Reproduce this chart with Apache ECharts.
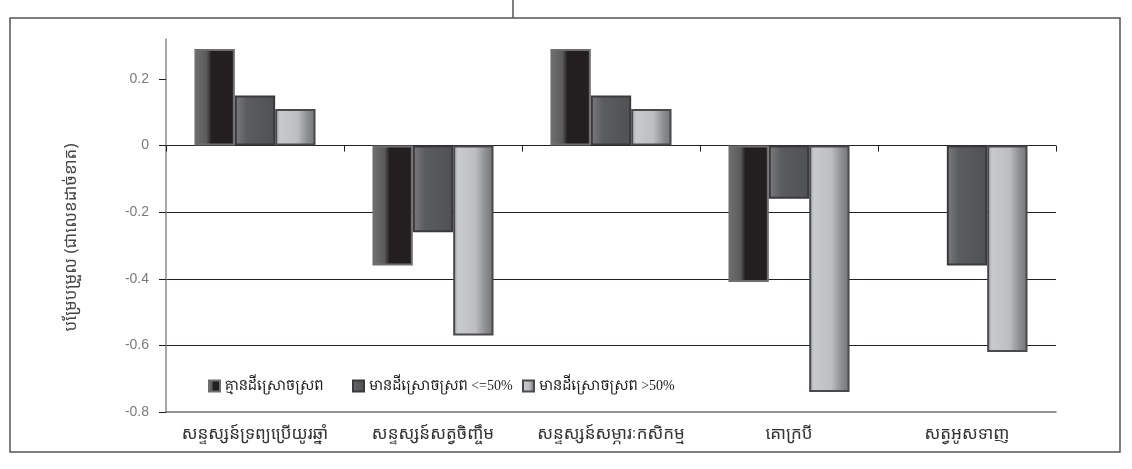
<!DOCTYPE html>
<html>
<head>
<meta charset="utf-8">
<script src="https://cdn.jsdelivr.net/npm/echarts@6/dist/echarts.min.js"></script>
<style>
  html, body { margin: 0; padding: 0; background: #fff; }
  #chart { width: 1132px; height: 469px; }
</style>
</head>
<body>
<div id="chart"></div>
<script>
// categories and series values
const categories = ['សន្ទស្សន៍ទ្រព្យប្រើយូរឆ្នាំ', 'សន្ទស្សន៍សត្វចិញ្ចឹម', 'សន្ទស្សន៍សម្ភារៈកសិកម្ម', 'គោក្របី', 'សត្វអូសទាញ']
const seriesNames = ['គ្មានដីស្រោចស្រព', 'មានដីស្រោចស្រព <=50%', 'មានដីស្រោចស្រព >50%']
const noIrrigation = [0.29, -0.36, 0.29, -0.41, null]
const irrigationLe50 = [0.15, -0.26, 0.15, -0.16, -0.36]
const irrigationGt50 = [0.11, -0.57, 0.11, -0.74, -0.62]
const yTicks = [-0.8, -0.6, -0.4, -0.2, 0, 0.2]

const khmerSans = "'Noto Sans Khmer', 'Khmer OS System', 'DejaVu Sans', sans-serif"
const khmerSerif = "'Liberation Serif', 'Noto Serif Khmer', 'Khmer OS', serif"

function grad (stops) {
  return new echarts.graphic.LinearGradient(0, 0, 1, 0, stops.map(function (s) {
    return { offset: s[0], color: s[1] }
  }))
}

const styles = [
  {
    color: grad([[0, '#707071'], [0.3, '#5a5a5b'], [0.42, '#231f20'], [1, '#231f20']]),
    borderColor: '#6e6e70'
  },
  {
    color: grad([[0, '#7c7c7e'], [0.3, '#5b5c5e'], [1, '#505153']]),
    borderColor: '#3a3a3c'
  },
  {
    color: grad([[0, '#9c9d9f'], [0.12, '#c9cacc'], [0.55, '#bdbec0'], [0.8, '#8d8e90'], [1, '#727375']]),
    borderColor: '#4a4a4c'
  }
]

const dataSets = [noIrrigation, irrigationLe50, irrigationGt50]
const legendLeft = [203, 347, 517]

const chart = echarts.init(document.getElementById('chart'))

const option = {
  backgroundColor: '#fff',
  animation: false,
  grid: {
    left: 166,
    right: 76,
    top: 39,
    bottom: 57
  },
  legend: seriesNames.map(function (name, i) {
    return {
      data: [name],
      left: legendLeft[i],
      top: 374,
      itemWidth: 11,
      itemHeight: 11,
      icon: 'rect',
      textStyle: {
        fontFamily: khmerSerif,
        fontSize: 14,
        color: '#231f20'
      }
    }
  }),
  xAxis: [{
    // ticks along the zero line
    type: 'category',
    data: categories,
    axisLine: { show: false, onZero: true },
    axisTick: { show: true, length: 6, lineStyle: { color: '#231f20' } },
    axisLabel: { show: false },
    splitLine: { show: false }
  }, {
    type: 'category',
    data: categories,
    position: 'bottom',
    axisLine: { onZero: false, lineStyle: { color: '#707070', width: 1.5 } },
    axisTick: { show: false },
    axisLabel: {
      interval: 0,
      margin: 14,
      fontFamily: khmerSans,
      fontSize: 17,
      color: '#333'
    }
  }],
  yAxis: [{
    type: 'value',
    min: -0.8,
    max: 0.32,
    interval: 0.2,
    name: 'បម្រែបម្រួល (ជាលេខដាច់ខាត)',
    nameLocation: 'middle',
    nameRotate: 90,
    nameGap: 86,
    nameTextStyle: {
      fontFamily: khmerSans,
      fontSize: 17,
      color: '#444',
      padding: [0, 24, 0, 0]
    },
    axisLine: { show: true, lineStyle: { color: '#8a8a8a', width: 1.5 } },
    axisTick: { show: true, length: 7, customValues: yTicks, lineStyle: { color: '#231f20' } },
    axisLabel: {
      customValues: yTicks,
      margin: 17,
      fontFamily: "'Liberation Sans', Arial, sans-serif",
      fontSize: 14,
      color: '#7a7a7a',
      formatter: function (v) { return String(Math.round(v * 10) / 10) }
    },
    splitLine: {
      show: true,
      showMinLine: false,
      showMaxLine: false,
      lineStyle: { color: '#231f20', width: 1 }
    }
  }],
  series: dataSets.map(function (d, i) {
    return {
      name: seriesNames[i],
      type: 'bar',
      data: d,
      barGap: '0%',
      barCategoryGap: '32%',
      itemStyle: {
        color: styles[i].color,
        borderColor: styles[i].borderColor,
        borderWidth: 2
      }
    }
  }),
  graphic: [{
    type: 'rect',
    shape: { x: 10, y: 18, width: 1110, height: 434 },
    style: { fill: null, stroke: '#555', lineWidth: 1.5 },
    silent: true
  }, {
    type: 'line',
    shape: { x1: 513, y1: 0, x2: 513, y2: 18 },
    style: { stroke: '#555', lineWidth: 1.5 },
    silent: true
  }]
}

chart.setOption(option)
</script>
</body>
</html>
